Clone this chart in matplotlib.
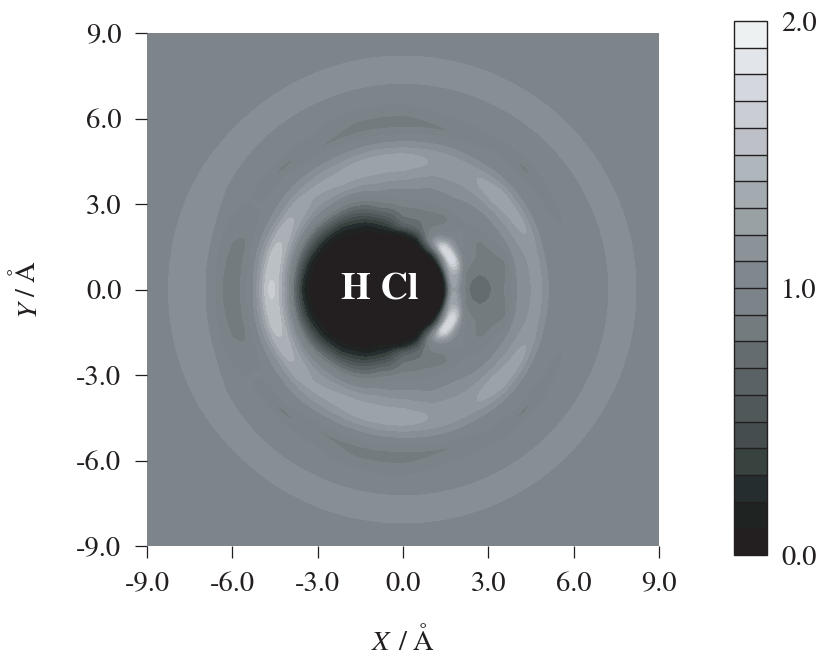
import numpy as np
import matplotlib
matplotlib.use("Agg")
import matplotlib.pyplot as plt
from matplotlib.colors import ListedColormap, BoundaryNorm

plt.rcParams['font.family'] = ['STIXGeneral', 'Liberation Serif', 'DejaVu Serif']

# radial sample positions (Å) and the angle (deg) of each profile
radii = [0, 1.25, 1.5, 1.75, 2.0, 2.25, 2.5, 2.75, 3.0, 3.25, 3.5, 3.75, 4.0, 4.25, 4.5,
         4.75, 5.0, 5.25, 5.5, 5.75, 6.0, 6.3, 6.7, 7.1, 7.5, 7.9, 8.3, 8.7, 13]
angles = [0, 15, 30, 45, 60, 75, 90, 105, 120, 135, 150, 165, 180]

g000 = [0, 0, .05, 1.45, 1.0, .80, .72, .72, .75, .84, .87, .95, 1.1, 1.15, 1.19, 1.25, 1.13, 1.04, 1.02, 1.02, 1.02, 1.02, 1.04, 1.08, 1.13, 1.14, 1.08, 1.04, 1.04]
g015 = [0, 0, .02, 1.5, 1.25, .86, .84, .82, .84, .84, .86, .88, 1.08, 1.15, 1.2, 1.25, 1.13, 1.04, 1.02, 1.02, 1.02, 1.02, 1.04, 1.08, 1.13, 1.14, 1.08, 1.04, 1.04]
g030 = [0, 0, .03, 1.2, 1.95, 1.15, .98, .95, .87, .88, .96, 1.05, 1.1, 1.18, 1.28, 1.36, 1.18, 1.06, 1.02, 1.0, .96, 1.02, 1.04, 1.08, 1.13, 1.14, 1.08, 1.04, 1.04]
g045 = [0, 0, .02, .7, 1.95, 1.3, 1.05, 1.02, 1.0, 1.0, 1.02, 1.06, 1.12, 1.22, 1.34, 1.38, 1.22, 1.08, 1.03, 1.0, .84, 1.0, 1.04, 1.08, 1.13, 1.14, 1.08, 1.04, 1.04]
g060 = [0, 0, .02, .5, 1.05, 1.0, .9, .86, .88, .99, 1.06, 1.1, 1.15, 1.2, 1.27, 1.28, 1.17, 1.08, 1.03, 1.0, .96, 1.0, 1.04, 1.08, 1.13, 1.14, 1.08, 1.04, 1.04]
g075 = [0, 0, .01, .05, .4, .74, .8, .84, .93, 1.0, 1.07, 1.1, 1.16, 1.22, 1.28, 1.28, 1.18, 1.08, 1.02, .87, .93, 1.0, 1.04, 1.08, 1.13, 1.14, 1.08, 1.04, 1.04]
g090 = [0, 0, 0, .03, .15, .62, .78, .84, .92, 1.04, 1.08, 1.16, 1.24, 1.32, 1.38, 1.3, 1.17, 1.06, .96, .86, .86, .95, 1.03, 1.08, 1.13, 1.14, 1.08, 1.04, 1.04]
g105 = [0, 0, 0, 0, .05, .22, .42, .62, .8, .92, 1.05, 1.16, 1.24, 1.32, 1.38, 1.3, 1.17, 1.06, .98, .87, .86, .95, 1.03, 1.08, 1.13, 1.14, 1.08, 1.04, 1.04]
g120 = [0, 0, 0, 0, 0, .05, .1, .28, .48, .68, .86, 1.02, 1.18, 1.3, 1.34, 1.28, 1.17, 1.07, 1.0, .87, .95, 1.0, 1.03, 1.08, 1.13, 1.14, 1.08, 1.04, 1.04]
g135 = [0, 0, 0, 0, 0, 0, .03, .08, .2, .42, .7, .92, 1.1, 1.22, 1.3, 1.32, 1.2, 1.1, 1.03, 1.0, .84, 1.0, 1.03, 1.08, 1.13, 1.14, 1.08, 1.04, 1.04]
g150 = [0, 0, 0, 0, 0, 0, 0, .02, .05, .2, .45, .75, 1.02, 1.25, 1.42, 1.42, 1.2, 1.1, 1.03, 1.0, 1.01, 1.0, 1.03, 1.09, 1.13, 1.14, 1.09, 1.04, 1.04]
g165 = [0, 0, 0, 0, 0, 0, 0, 0, .03, .08, .25, .6, 1.0, 1.3, 1.55, 1.55, 1.3, 1.1, 1.0, .87, .87, .9, 1.0, 1.13, 1.14, 1.14, 1.09, 1.04, 1.04]
g180 = [0, 0, 0, 0, 0, 0, 0, 0, .02, .05, .15, .55, 1.04, 1.36, 1.62, 1.62, 1.3, 1.08, 1.0, .86, .85, .86, 1.03, 1.13, 1.14, 1.14, 1.09, 1.04, 1.04]
profiles = [g000, g015, g030, g045, g060, g075, g090, g105, g120, g135, g150, g165, g180]

levels = np.arange(0, 2.01, 0.1)
shades = ['#231f20', '#1f2322', '#262d2f', '#38423f', '#454d4e', '#50585a', '#5a6265',
          '#646c70', '#737b7e', '#7b8388', '#7d858b', '#878e94', '#90979d', '#9ca3a8',
          '#aab0b5', '#bbc0c4', '#cbcdd4', '#d5d7df', '#e2e5e9', '#edf1f2']
bar_shades = ['#231f20', '#1f2322', '#262d2f', '#38423f', '#454d4e', '#50585a', '#5a6265',
              '#646c70', '#737b7e', '#7c848a', '#7f888e', '#8b9399', '#99a1a5', '#a4abb0',
              '#b0b7bc', '#bdc1c7', '#cbcdd4', '#d5d7df', '#e2e5e9', '#edf1f2']
ticks_xy = [-9, -6, -3, 0, 3, 6, 9]
ticks_cb = [0, 1, 2]

W, H = 820, 657
fig = plt.figure(figsize=(W / 100, H / 100), dpi=100)
ax = fig.add_axes([147 / W, 1 - 546 / H, 512 / W, 513 / H])

x = np.linspace(-9, 9, 721)
X, Y = np.meshgrid(x, x)
rr = np.hypot(X, Y)
th = np.degrees(np.arctan2(np.abs(Y), X))
stack = np.stack([np.interp(rr, radii, p) for p in profiles])
i = np.clip((th // 15).astype(int), 0, len(angles) - 2)
f = (th - np.array(angles)[i]) / 15
J, K = np.indices(rr.shape)
Z = (1 - f) * stack[i, J, K] + f * stack[i + 1, J, K]

# light blur to round off the table's grid
kernel = np.exp(-0.5 * (np.arange(-10, 11) / 3.0) ** 2)
kernel /= kernel.sum()
P = np.pad(Z, 10, mode='edge')
P = np.apply_along_axis(lambda v: np.convolve(v, kernel, mode='same'), 0, P)
P = np.apply_along_axis(lambda v: np.convolve(v, kernel, mode='same'), 1, P)
Z = P[10:-10, 10:-10]

cmap = ListedColormap(shades)
norm = BoundaryNorm(levels, cmap.N)
cs = ax.contourf(X, Y, Z, levels=levels, cmap=cmap, norm=norm)
cs.set_edgecolor('face')

ax.set_xlim(-9, 9)
ax.set_ylim(-9, 9)
for s in ax.spines.values():
    s.set_visible(False)
ax.set_xticks(ticks_xy, [f'{t:.1f}' for t in ticks_xy])
ax.set_yticks(ticks_xy, [f'{t:.1f}' for t in ticks_xy])
ax.tick_params(direction='out', length=8.5, width=0.9, color='#231f20',
               labelsize=20.5, labelcolor='#231f20', pad=10)
ax.text(-0.8, -0.03, 'H Cl', color='white', fontweight='bold', fontsize=27.5,
        ha='center', va='center')

ink = '#231f20'
fig.text(372 / W, 1 - 650 / H, 'X', style='italic', fontsize=20.5, color=ink, ha='left', va='baseline')
fig.text(398 / W, 1 - 650 / H, '/ Å', fontsize=20.5, color=ink, ha='left', va='baseline')
fig.text(35 / W, 1 - 316 / H, 'Y', style='italic', fontsize=20.5, color=ink, ha='left', va='baseline',
         rotation=90, rotation_mode='anchor')
fig.text(35 / W, 1 - 297 / H, '/ Å', fontsize=20.5, color=ink, ha='left', va='baseline',
         rotation=90, rotation_mode='anchor')

cax = fig.add_axes([734 / W, 1 - 555 / H, 33 / W, 534 / H])
sm = plt.cm.ScalarMappable(norm=BoundaryNorm(levels, len(bar_shades)), cmap=ListedColormap(bar_shades))
cb = fig.colorbar(sm, cax=cax, boundaries=levels, ticks=ticks_cb, drawedges=True)
cb.dividers.set_color(ink)
cb.dividers.set_linewidth(1.0)
cb.outline.set_edgecolor(ink)
cb.outline.set_linewidth(1.0)
cb.set_ticklabels([f'{t:.1f}' for t in ticks_cb])
cb.minorticks_off()
cax.tick_params(which='both', length=0, labelsize=20.5, labelcolor=ink, pad=10)

fig.savefig('out.png', dpi=100)
